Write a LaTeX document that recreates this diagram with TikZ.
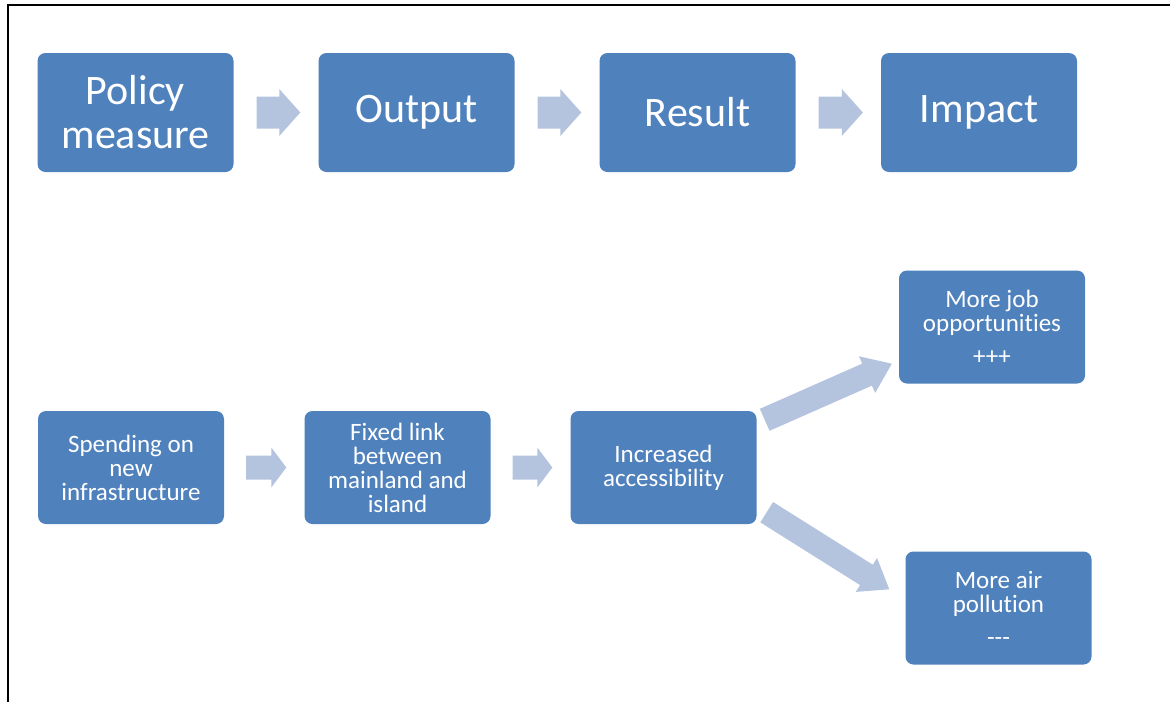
\documentclass[tikz,border=0pt]{standalone}
\usepackage{fontspec}
\setmainfont{Carlito}[Ligatures=NoCommon]
\usetikzlibrary{calc}
\definecolor{boxblue}{HTML}{4F81BD}
\definecolor{arrowblue}{HTML}{B4C4DE}
\tikzset{
  box/.style={fill=boxblue, rounded corners=8pt, text=white, align=center, inner sep=0pt},
  bigbox/.style={box, minimum width=196pt, minimum height=119pt, font=\fontsize{42}{44}\selectfont},
  smallbox/.style={box, minimum width=186pt, minimum height=113pt, font=\fontsize{25}{24}\selectfont},
  arr/.style={fill=arrowblue},
}
% tail, tip, shaft half width, head half width, head length
\newcommand\fatarr[5]{%
  \coordinate (fac) at ($(#2)!#5!(#1)$);
  \fill[arr] ($(#1)!#3!90:(#2)$) -- ($(fac)!#3!90:(#2)$) -- ($(fac)!#4!90:(#2)$) -- (#2)
    -- ($(fac)!#4!-90:(#2)$) -- ($(fac)!#3!-90:(#2)$) -- ($(#1)!#3!-90:(#2)$) -- cycle;}
\begin{document}
\begin{tikzpicture}[x=1pt,y=-1pt]
\useasboundingbox (0,0) rectangle (1170,702);
\fill[white] (0,0) rectangle (1170,702);
\draw[line width=2pt] (8,702) -- (8,5) -- (1170,5);
% top row
\node[bigbox] (pm)  at (135.5,112.5) {Policy\\measure};
\node[bigbox] (out) at (416.5,112.5) {Output};
\node[bigbox] (res) at (697.5,112.5) {Result};
\node[bigbox] (imp) at (979,112.5) {Impact};
% bottom
\node[smallbox] (sp)  at (131,467.5) {Spending on\\new\\infrastructure};
\node[smallbox] (fix) at (397.5,467.5) {Fixed link\\between\\mainland and\\island};
\node[smallbox] (inc) at (663.5,467.5) {Increased\\accessibility};
\node[smallbox] (job) at (992,327) {More job\\opportunities\\[9pt]+++};
\node[smallbox] (air) at (998.5,608) {More air\\pollution\\[9pt]-{}-{}-};
% top arrows
\coordinate (t1) at ($(pm.east)!23pt!(out.west)$);
\coordinate (h1) at ($(out.west)!18pt!(pm.east)$);
\coordinate (t2) at ($(out.east)!23pt!(res.west)$);
\coordinate (h2) at ($(res.west)!18pt!(out.east)$);
\coordinate (t3) at ($(res.east)!23pt!(imp.west)$);
\coordinate (h3) at ($(imp.west)!18pt!(res.east)$);
\fatarr{t1}{h1}{16pt}{23.5pt}{21pt}
\fatarr{t2}{h2}{16pt}{23.5pt}{21pt}
\fatarr{t3}{h3}{16pt}{23.5pt}{21pt}
% bottom arrows
\coordinate (t4) at ($(sp.east)!22pt!(fix.west)$);
\coordinate (h4) at ($(fix.west)!18pt!(sp.east)$);
\coordinate (t5) at ($(fix.east)!22pt!(inc.west)$);
\coordinate (h5) at ($(inc.west)!18pt!(fix.east)$);
\fatarr{t4}{h4}{12pt}{20pt}{15pt}
\fatarr{t5}{h5}{12pt}{20pt}{15pt}
\coordinate (t6) at ($(inc.north east)+(8,9)$);
\coordinate (h6) at ($(job.south west)+(-7,-20)$);
\coordinate (t7) at ($(inc.south east)+(10,-12)$);
\coordinate (h7) at ($(air.north west)+(-16,38)$);
\fatarr{t6}{h6}{12pt}{20pt}{27pt}
\fatarr{t7}{h7}{12pt}{20pt}{27pt}
\end{tikzpicture}
\end{document}
